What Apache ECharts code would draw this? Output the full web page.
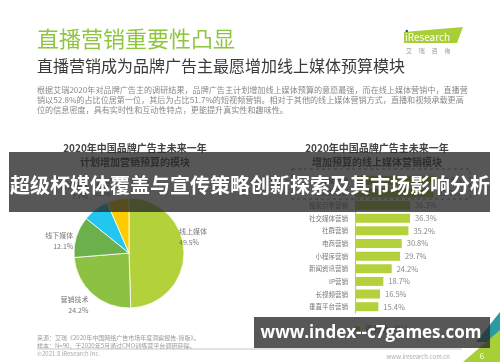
<!DOCTYPE html>
<html><head><meta charset="utf-8">
<script src="https://cdn.jsdelivr.net/npm/echarts@6/dist/echarts.min.js"></script>
<style>html,body{margin:0;padding:0;background:#fff}#c{width:500px;height:362px}</style>
</head><body><div id="c"></div>
<script>
// ---- data ----
const pieNames = ['线上媒体', '营销技术', '线下媒体', '营销渠道', '其他'];
const pieValues = [49.5, 24.2, 12.1, 7.7, 6.5];
const barCategories = ['直播营销', '短视频营销', '搜索引擎营销', '社交媒体营销', '社群营销', '电商营销', '小程序营销', '新闻资讯营销', 'IP营销', '长视频营销', '垂直平台营销'];
const barValues = [52.8, 51.7, 36.3, 36.3, 35.2, 30.8, 29.7, 24.2, 18.7, 16.5, 15.4];
const legendName = '百分比（%）';

// ---- styles ----
const FONT = '"Noto Sans CJK SC", "Noto Sans", sans-serif';
const pieColors = ['#b3d13b', '#8cc143', '#6bb04a', '#22c6ee', '#fecb00'];
const barColor = '#b3d13b';
const pieLabelShift = [[-22, -15], [9, 2], [9, 5], [12, -21], [0, 0]];

const chart = echarts.init(document.getElementById('c'), null, {renderer: 'canvas'});

const bodyLines = [
  '根据艾瑞2020年对品牌广告主的调研结果，品牌广告主计划增加线上媒体预算的意愿最强，而在线上媒体营销中，直播营',
  '销以52.8%的占比位居第一位，其后为占比51.7%的短视频营销。相对于其他的线上媒体营销方式，直播和视频承载更高',
  '位的信息密度，具有实时性和互动性特点，更能提升真实性和趣味性。'
];

const graphics = [
  {type: 'text', left: 37, top: 28, style: {text: '直播营销重要性凸显', font: '22px ' + FONT, fill: '#8fc63f'}},
  {type: 'text', left: 37, top: 58, style: {text: '直播营销成为品牌广告主最愿增加线上媒体预算模块', font: '16px ' + FONT, fill: '#3a3a3a'}},
  // logo
  {type: 'polygon', shape: {points: [[404, 32], [463, 27], [457, 43], [404, 43]]}, style: {fill: '#a8cf38'}},
  {type: 'text', x: 405, y: 37.5, style: {text: 'iResearch', font: '10px ' + FONT, fill: '#fff', verticalAlign: 'middle'}},
  {type: 'circle', shape: {cx: 406.8, cy: 31, r: 1.3}, style: {fill: '#1c5c9c'}},
  {type: 'text', x: 406, y: 51, style: {text: '艾     瑞     咨     询', font: '6px ' + FONT, fill: '#999', verticalAlign: 'middle'}},
  // footer
  {type: 'text', x: 37, y: 338, style: {text: '来源：艾瑞《2020年中国网络广告市场年度洞察报告-简版》。', font: '6px ' + FONT, fill: '#999', verticalAlign: 'middle'}},
  {type: 'text', x: 37, y: 346, style: {text: '样本：N=90，于2020年5月通过CMO训练营平台调研获得。', font: '6px ' + FONT, fill: '#999', verticalAlign: 'middle'}},
  {type: 'line', shape: {x1: 37, y1: 349, x2: 462, y2: 349}, style: {stroke: '#c8c8c8', lineWidth: 1}},
  {type: 'text', x: 37, y: 354, style: {text: '©2021.8 iResearch Inc.', font: '6px ' + FONT, fill: '#aaa', verticalAlign: 'middle'}},
  {type: 'text', x: 450, y: 357, style: {text: 'www.iresearch.com.cn', font: '6px ' + FONT, fill: '#aaa', align: 'right', verticalAlign: 'middle'}},
  {type: 'polygon', shape: {points: [[500, 312], [500, 342], [476, 342]]}, style: {fill: '#2a9aa0'}},
  {type: 'polygon', shape: {points: [[500, 330], [500, 362], [463, 362]]}, style: {fill: '#a8cf38'}},
  {type: 'text', x: 482, y: 356, style: {text: '6', font: '8px ' + FONT, fill: '#fff', align: 'center', verticalAlign: 'middle'}},
  // dashed highlight box
  {type: 'rect', shape: {x: 292, y: 169, width: 178, height: 30}, style: {fill: 'none', stroke: '#5f8f8f', lineWidth: 1, lineDash: [3, 3]}},
  // overlays
  {type: 'rect', z: 100, shape: {x: 9, y: 152, width: 481, height: 60}, style: {fill: 'rgba(40,40,40,0.78)'}},
  {type: 'text', z: 101, x: 250, y: 185, style: {text: '超级杯媒体覆盖与宣传策略创新探索及其市场影响分析', font: 'bold 20px ' + FONT, fill: '#fff', align: 'center', verticalAlign: 'middle'}},
  {type: 'rect', z: 100, shape: {x: 254, y: 317, width: 236, height: 31}, style: {fill: 'rgba(40,40,40,0.78)'}},
  {type: 'text', z: 101, x: 371, y: 333, style: {text: 'www.index--c7games.com', font: 'bold 17px "Open Sans", "Noto Sans", sans-serif', fill: '#fff', align: 'center', verticalAlign: 'middle'}}
];
bodyLines.forEach((t, i) => graphics.push({type: 'text', x: 37, y: 90 + i * 10, style: {text: t, font: '8.1px ' + FONT, fill: '#888', verticalAlign: 'middle'}}));

chart.setOption({
  animation: false,
  textStyle: {fontFamily: FONT},
  title: [
    {text: '2020年中国品牌广告主未来一年\n计划增加营销预算的模块', left: 130, top: 136, textAlign: 'center',
      textStyle: {fontSize: 10, fontWeight: 'bold', color: '#444', lineHeight: 14}},
    {text: '2020年中国品牌广告主未来一年\n增加预算的线上媒体营销模块', left: 372, top: 136, textAlign: 'center',
      textStyle: {fontSize: 10, fontWeight: 'bold', color: '#444', lineHeight: 14}}
  ],
  legend: {data: [legendName], left: 350, top: 320, itemWidth: 5, itemHeight: 5, itemGap: 4,
    textStyle: {fontSize: 8, color: '#555'}},
  grid: {left: 355, width: 91, top: 174, height: 139},
  xAxis: {type: 'value', min: 0, max: 60, show: false},
  yAxis: {type: 'category', data: barCategories, inverse: true,
    axisLine: {show: true, lineStyle: {color: '#bbb'}}, axisTick: {show: false},
    axisLabel: {fontSize: 6.5, color: '#777', margin: 7}},
  series: [
    {type: 'pie', center: [129, 253], radius: 55, startAngle: 90, clockwise: true,
      data: pieNames.map((n, i) => ({name: n, value: pieValues[i], itemStyle: {color: pieColors[i]}})),
      itemStyle: {borderColor: '#fff', borderWidth: 0.8},
      label: {show: true, position: 'outside', formatter: '{b}\n{c}%', fontSize: 7, color: '#777', lineHeight: 11, align: 'center'},
      labelLine: {show: false, length: 12, length2: 0},
      labelLayout: p => ({dx: pieLabelShift[p.dataIndex][0], dy: pieLabelShift[p.dataIndex][1]})
    },
    {type: 'bar', name: legendName, data: barValues, barWidth: 9, itemStyle: {color: barColor},
      label: {show: true, position: 'right', formatter: '{c}%', fontSize: 7.5, color: '#888', distance: 5}}
  ],
  graphic: graphics
});
</script></body></html>
